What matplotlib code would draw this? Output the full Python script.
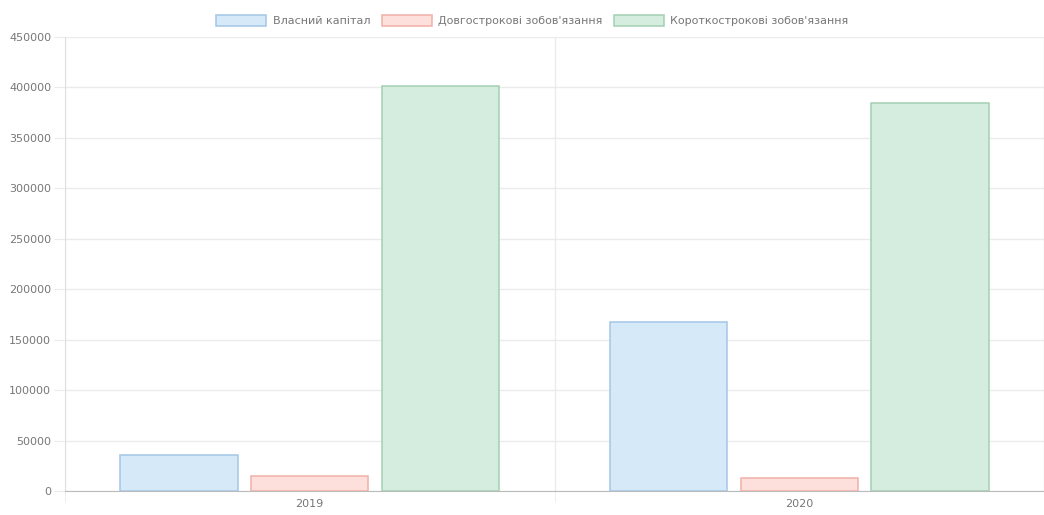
import matplotlib.pyplot as plt
import numpy as np
from matplotlib.patches import Patch

# Data
years = ['2019', '2020']
series_names = ['Власний капітал', 'Довгострокові зобов\'язання', 'Короткострокові зобов\'язання']
own_capital = [36000, 168000]
long_term = [15000, 12500]
short_term = [401000, 385000]

fills = ['#d6e9f9', '#fde0dc', '#d5eddf']
edges = ['#a3c6e6', '#f0b0a9', '#a4cfb3']

fig = plt.figure(figsize=(10.44, 5.15), dpi=100)
ax = fig.add_axes([65 / 1044, 24 / 515, 979 / 1044, 454 / 515])

x = np.arange(len(years))
slot = 0.8 / 3
bar_w = slot * 0.9
for i, vals in enumerate([own_capital, long_term, short_term]):
    ax.bar(x - 0.4 + slot * (i + 0.5), vals, width=bar_w,
           color=fills[i], edgecolor=edges[i], linewidth=1.1, zorder=3)

ax.set_xlim(-0.5, 1.5)
ax.set_ylim(0, 450000)
ax.set_yticks(np.arange(0, 450001, 50000))
ax.set_xticks(x)
ax.set_xticklabels(years)

# grid lines (Chart.js style)
ax.set_xticks([-0.5, 0.5, 1.5], minor=True)
ax.grid(True, axis='y', color='#ebebeb', linewidth=1, zorder=0)
ax.grid(True, axis='x', which='minor', color='#ebebeb', linewidth=1, zorder=0)
ax.tick_params(axis='y', length=8, color='#ebebeb', labelsize=8, labelcolor='#777777', pad=2)
ax.tick_params(axis='x', which='major', length=0, labelsize=8, labelcolor='#777777', pad=6)
ax.tick_params(axis='x', which='minor', length=8, color='#ebebeb')

for s in ['top', 'right']:
    ax.spines[s].set_visible(False)
ax.spines['left'].set_color('#e0e0e0')
ax.spines['bottom'].set_color('#bbbbbb')

handles = [Patch(facecolor=fills[i], edgecolor=edges[i], linewidth=1.1) for i in range(3)]
fig.legend(handles, series_names, loc='upper center', bbox_to_anchor=(0.51, 0.99),
           ncol=3, frameon=False, fontsize=8, labelcolor='#777777',
           handlelength=4.5, handleheight=1.1, columnspacing=1.0, handletextpad=0.6)

fig.savefig('out.png', dpi=100, facecolor='white')
